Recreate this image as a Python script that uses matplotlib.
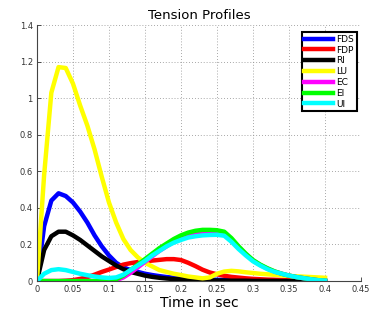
import numpy as np
import matplotlib
matplotlib.use("Agg")
import matplotlib.pyplot as plt

# time axis, sampled every 0.01 s
t = np.round(np.arange(0, 0.401, 0.01), 2)

fds = [0, 0.30, 0.44, 0.48, 0.465, 0.43, 0.38, 0.32, 0.25, 0.19, 0.14,
       0.10, 0.075, 0.06, 0.05, 0.04, 0.033, 0.027, 0.022, 0.018, 0.015,
       0.012, 0.010, 0.009, 0.008, 0.007, 0.006, 0.005, 0.005, 0.004, 0.004,
       0.003, 0.003, 0.002, 0.002, 0.002, 0.001, 0.001, 0.001, 0.0, 0.0]
fdp = [0, 0, 0, 0, 0.002, 0.005, 0.012, 0.022, 0.035, 0.05, 0.063,
       0.077, 0.09, 0.098, 0.104, 0.108, 0.112, 0.116, 0.12, 0.12, 0.115,
       0.10, 0.082, 0.062, 0.047, 0.037, 0.029, 0.023, 0.019, 0.015, 0.012,
       0.010, 0.008, 0.007, 0.006, 0.005, 0.004, 0.003, 0.002, 0.001, 0.0]
ri = [0, 0.17, 0.245, 0.27, 0.27, 0.25, 0.225, 0.195, 0.165, 0.135, 0.11,
      0.085, 0.065, 0.05, 0.04, 0.03, 0.023, 0.018, 0.014, 0.011, 0.009,
      0.007, 0.006, 0.005, 0.004, 0.003, 0.003, 0.002, 0.002, 0.002, 0.001,
      0.001, 0.001, 0.001, 0.0, 0.0, 0.0, 0.0, 0.0, 0.0, 0.0]
lu = [0, 0.58, 1.03, 1.17, 1.165, 1.08, 0.96, 0.85, 0.72, 0.57, 0.43,
      0.32, 0.23, 0.17, 0.13, 0.10, 0.08, 0.06, 0.05, 0.04, 0.033,
      0.025, 0.02, 0.015, 0.02, 0.04, 0.052, 0.056, 0.053, 0.048, 0.044,
      0.04, 0.037, 0.034, 0.031, 0.028, 0.026, 0.024, 0.022, 0.02, 0.018]
ec = [0, 0, 0, 0, 0, 0, 0, 0, 0, 0, 0,
      0.005, 0.02, 0.045, 0.075, 0.105, 0.135, 0.165, 0.19, 0.215, 0.235,
      0.25, 0.26, 0.265, 0.267, 0.267, 0.262, 0.228, 0.185, 0.147, 0.113,
      0.088, 0.068, 0.052, 0.04, 0.03, 0.022, 0.016, 0.01, 0.005, 0.002]
ei = [0, 0, 0, 0, 0, 0, 0, 0, 0, 0, 0.002,
      0.01, 0.03, 0.06, 0.09, 0.12, 0.15, 0.18, 0.205, 0.23, 0.25,
      0.265, 0.275, 0.28, 0.28, 0.278, 0.27, 0.235, 0.19, 0.15, 0.115,
      0.09, 0.07, 0.053, 0.04, 0.03, 0.022, 0.016, 0.01, 0.005, 0.002]
ui = [0, 0.04, 0.06, 0.065, 0.06, 0.05, 0.04, 0.032, 0.025, 0.02, 0.017,
      0.02, 0.035, 0.06, 0.085, 0.11, 0.14, 0.165, 0.19, 0.21, 0.225,
      0.238, 0.245, 0.25, 0.252, 0.253, 0.248, 0.215, 0.175, 0.14, 0.108,
      0.085, 0.065, 0.05, 0.04, 0.03, 0.022, 0.016, 0.01, 0.005, 0.002]

names = ["FDS", "FDP", "RI", "LU", "EC", "EI", "UI"]
colours = ["#0000ff", "#ff0000", "#000000", "#ffff00", "#ff00ff", "#00ff00", "#00ffff"]
series = [fds, fdp, ri, lu, ec, ei, ui]

fig = plt.figure(figsize=(3.73, 3.13), dpi=100)
ax = fig.add_axes([0.099, 0.102, 0.869, 0.818])

for name, col, vals in zip(names, colours, series):
    ax.plot(t, vals, color=col, lw=3.2, label=name)

ax.set_xlim(0, 0.45)
ax.set_ylim(0, 1.4)
ax.set_xticks(np.arange(0, 0.451, 0.05))
ax.set_xticklabels(["0", "0.05", "0.1", "0.15", "0.2", "0.25", "0.3", "0.35", "0.4", "0.45"])
ax.set_yticks(np.arange(0, 1.41, 0.2))
ax.set_yticklabels(["0", "0.2", "0.4", "0.6", "0.8", "1", "1.2", "1.4"])
ax.tick_params(direction="in", labelsize=6, length=3, width=0.6, pad=3,
               colors="#333333")
ax.grid(True, linestyle=(0, (1, 2.5)), color="#8a8a8a", lw=0.6)
for side in ["top", "right"]:
    ax.spines[side].set_visible(False)
for side in ["left", "bottom"]:
    ax.spines[side].set_color("#444444")
    ax.spines[side].set_linewidth(0.8)

ax.set_title("Tension Profiles", fontsize=9.5, pad=4)
ax.set_xlabel("Time in sec", fontsize=10, labelpad=1)

leg = ax.legend(loc="upper right", fontsize=6.5, handlelength=3.2,
                handletextpad=0.3, labelspacing=0.2, borderpad=0.3,
                fancybox=False, framealpha=1, bbox_to_anchor=(1.0, 0.99))
leg.get_frame().set_edgecolor("black")
leg.get_frame().set_linewidth(1.5)

fig.savefig("out.png", dpi=100)
